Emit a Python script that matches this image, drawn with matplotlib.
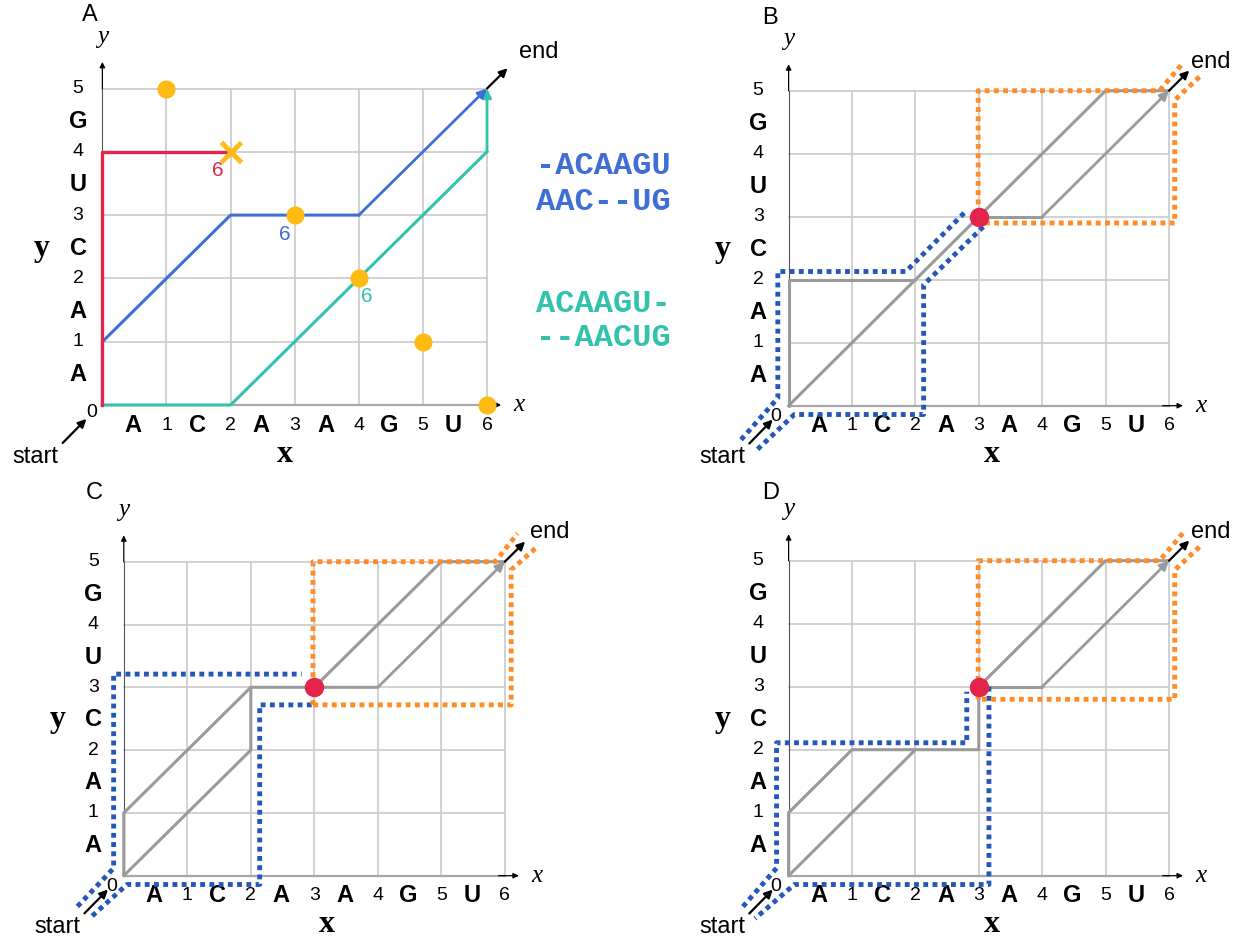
import matplotlib
matplotlib.use("Agg")
import matplotlib.pyplot as plt

W, H = 1242, 940
fig = plt.figure(figsize=(W / 100, H / 100), dpi=100)
fig.patch.set_facecolor("white")

# ---------------- data ----------------
x_seq = ["A", "C", "A", "A", "G", "U"]
y_seq = ["A", "A", "C", "U", "G"]
x_ticks = [0, 1, 2, 3, 4, 5, 6]
y_ticks = [0, 1, 2, 3, 4, 5]

# panel A paths
red_x, red_y = [0, 0, 2], [0, 4, 4]
blue_x, blue_y = [0, 0, 2, 4, 6], [0, 1, 3, 3, 5]
teal_x, teal_y = [0, 2, 6, 6], [0, 0, 4, 5]
dots_x, dots_y = [1, 3, 4, 5, 6], [5, 3, 2, 1, 0]
cross_x, cross_y = [2], [4]
score_labels = [("6", 1.80, 3.71, "#E3244B"), ("6", 2.85, 2.69, "#3F6FD6"), ("6", 4.13, 1.71, "#33C2AE")]
align_blue = ["-ACAAGU", "AAC--UG"]
align_teal = ["ACAAGU-", "--AACUG"]

# panels B, C, D: optimal sub-paths (gray)
paths_B = [[(0, 0), (0, 2), (2, 2)], [(0, 0), (3, 3)], [(3, 3), (5, 5), (6, 5)], [(3, 3), (4, 3), (6, 5)]]
paths_C = [[(0, 0), (0, 1), (2, 3), (4, 3)], [(0, 0), (2, 2), (2, 3)], [(3, 3), (5, 5), (6, 5)], [(4, 3), (6, 5)]]
paths_D = [[(0, 0), (0, 1), (1, 2), (3, 2), (3, 3)], [(0, 0), (2, 2)], [(3, 3), (5, 5), (6, 5)], [(3, 3), (4, 3), (6, 5)]]
mid_point = (3, 3)

blue_B = [[(-0.75, -0.54), (-0.17, 0.12), (-0.17, 2.13), (1.85, 2.13), (2.79, 3.08)],
          [(3.07, 2.84), (2.13, 1.92), (2.13, -0.14), (0.09, -0.14), (-0.53, -0.73)]]
orange_B = [[(2.99, 3.05), (2.99, 5.0), (5.85, 5.0), (6.23, 5.45)],
            [(6.48, 5.22), (6.09, 4.85), (6.09, 2.9), (3.1, 2.9)]]
blue_C = [[(-0.73, -0.49), (-0.16, 0.12), (-0.16, 3.21), (2.8, 3.21)],
          [(2.96, 2.72), (2.14, 2.72), (2.14, -0.14), (0.05, -0.14), (-0.54, -0.68)]]
orange_C = [[(2.98, 2.72), (2.98, 5.0), (5.85, 5.0), (6.2, 5.45)],
            [(6.48, 5.21), (6.1, 4.87), (6.1, 2.72), (2.98, 2.72)]]
blue_D = [[(-0.72, -0.49), (-0.19, 0.12), (-0.19, 2.11), (2.81, 2.11), (2.81, 2.92)],
          [(3.16, 3.0), (3.16, -0.14), (0.09, -0.14), (-0.53, -0.68)]]
orange_D = [[(2.99, 2.8), (2.99, 5.0), (5.85, 5.0), (6.23, 5.45)],
            [(6.48, 5.22), (6.09, 4.85), (6.09, 2.8), (2.99, 2.8)]]

# ---------------- styles ----------------
GRID = "#c9c9c9"
GRAY = "#9a9a9a"
RED = "#E3244B"
BLUE = "#3F6FD6"
TEAL = "#33C2AE"
GOLD = "#FDBB14"
DBLUE = "#2457B9"
ORANGE = "#FF8C26"
SANS = "Liberation Sans"
SERIF = "Liberation Serif"
DOT = (0, (1, 0.9))

XL, XR, YB, YT = -1.6, 7.4, -1.1, 6.5


def make_ax(ox, oy, ux, uy):
    left = ox + XL * ux
    width = (XR - XL) * ux
    bottom_px = oy - YB * uy
    height = (YT - YB) * uy
    ax = fig.add_axes([left / W, (H - bottom_px) / H, width / W, height / H])
    ax.set_xlim(XL, XR)
    ax.set_ylim(YB, YT)
    ax.axis("off")
    ax.patch.set_alpha(0)
    return ax


def frame(ax, letter, letter_xy, ynum_x, zero_xy, xlab_x, ylab_x, end_x, end_y):
    for gx in range(1, 7):
        ax.plot([gx, gx], [0, 5], color=GRID, lw=1.2, zorder=1)
    for gy in range(1, 6):
        ax.plot([0, 6], [gy, gy], color=GRID, lw=1.2, zorder=1)
    ax.plot([0, 6], [0, 0], color="#a8a8a8", lw=1.6, zorder=1)
    ax.annotate("", xy=(6.22, 0), xytext=(5.9, 0),
                arrowprops=dict(arrowstyle="-|>", lw=0.9, color="black", mutation_scale=8,
                                shrinkA=0, shrinkB=0), zorder=2)
    ax.annotate("", xy=(0, 5.42), xytext=(0, 5.0),
                arrowprops=dict(arrowstyle="-|>", lw=0.9, color="black", mutation_scale=8,
                                shrinkA=0, shrinkB=0), zorder=2)
    ax.plot([0, 0], [0, 5.0], color="#555555", lw=0.8, zorder=1)
    # axis letters
    ax.text(6.5, 0.0, "x", family=SERIF, style="italic", fontsize=18, ha="center", va="center")
    ax.text(0.0, 5.82, "y", family=SERIF, style="italic", fontsize=18, ha="center", va="center")
    ax.text(letter_xy[0], letter_xy[1], letter, family=SANS, fontsize=17, ha="center", va="center")
    ax.text(xlab_x, -0.78, "x", family=SERIF, weight="bold", fontsize=23, ha="center", va="center")
    ax.text(ylab_x, 2.48, "y", family=SERIF, weight="bold", fontsize=23, ha="center", va="center")
    # ticks
    ax.text(zero_xy[0], zero_xy[1], "0", family=SANS, fontsize=14, ha="center", va="center")
    for t in x_ticks[1:]:
        ax.text(t, -0.32, str(t), family=SANS, fontsize=14, ha="center", va="center")
    for i, b in enumerate(x_seq):
        ax.text(i + 0.48, -0.32, b, family=SANS, weight="bold", fontsize=17, ha="center", va="center")
    for t in y_ticks[1:]:
        ax.text(ynum_x, t, str(t), family=SANS, fontsize=14, ha="center", va="center")
    for i, b in enumerate(y_seq):
        ax.text(ynum_x, i + 0.48, b, family=SANS, weight="bold", fontsize=17, ha="center", va="center")
    # start / end
    ax.annotate("", xy=(-0.25, -0.22), xytext=(-0.62, -0.6),
                arrowprops=dict(arrowstyle="-|>", lw=1.6, color="black", mutation_scale=12,
                                shrinkA=0, shrinkB=0), zorder=6)
    ax.text(-1.04, -0.82, "start", family=SANS, fontsize=17, ha="center", va="center")
    ax.annotate("", xy=(6.32, 5.32), xytext=(6.0, 5.0),
                arrowprops=dict(arrowstyle="-|>", lw=1.6, color="black", mutation_scale=12,
                                shrinkA=0, shrinkB=0), zorder=6)
    ax.text(end_x, end_y, "end", family=SANS, fontsize=17, ha="left", va="center")


def arrow_end(ax, p0, p1, color):
    ax.annotate("", xy=p1, xytext=p0,
                arrowprops=dict(arrowstyle="-|>", lw=2.0, color=color, mutation_scale=13,
                                shrinkA=0, shrinkB=0), zorder=4)


# ---------------- panel A ----------------
axA = make_ax(102.4, 405.0, 64.1, 63.3)
frame(axA, "A", (-0.2, 6.16), -0.38, (-0.17, -0.12), 2.85, -0.94, 6.5, 5.58)
axA.plot(teal_x[:-1], teal_y[:-1], color=TEAL, lw=2.2, zorder=3)
arrow_end(axA, (teal_x[-2], teal_y[-2]), (teal_x[-1], teal_y[-1]), TEAL)
axA.plot(blue_x[:-1], blue_y[:-1], color=BLUE, lw=2.2, zorder=3)
arrow_end(axA, (blue_x[-2], blue_y[-2]), (blue_x[-1], blue_y[-1]), BLUE)
axA.plot(red_x, red_y, color=RED, lw=2.4, zorder=3)
axA.plot(dots_x, dots_y, "o", color=GOLD, ms=12, zorder=5, clip_on=False)
axA.plot(cross_x, cross_y, "x", color=GOLD, ms=14, mew=3.5, zorder=5)
for s, sx, sy, c in score_labels:
    axA.text(sx, sy, s, color=c, family=SANS, fontsize=15, ha="center", va="center")

for i, line in enumerate(align_blue):
    fig.text(536 / W, 1 - (166.5 + 35 * i) / H, line, color=BLUE, family="Liberation Mono",
             weight="bold", fontsize=23, ha="left", va="center")
for i, line in enumerate(align_teal):
    fig.text(536 / W, 1 - (304.5 + 33.5 * i) / H, line, color=TEAL, family="Liberation Mono",
             weight="bold", fontsize=23, ha="left", va="center")


# ---------------- panels B, C, D ----------------
def draw_panel(ax, paths, blue_lines, orange_lines):
    for p in paths:
        xs = [q[0] for q in p]
        ys = [q[1] for q in p]
        if p[-1] == (6, 5) and p[-2] != (5, 5):
            ax.plot(xs[:-1], ys[:-1], color=GRAY, lw=2.2, zorder=3, solid_capstyle="round")
            arrow_end(ax, p[-2], p[-1], GRAY)
        else:
            ax.plot(xs, ys, color=GRAY, lw=2.2, zorder=3, solid_capstyle="round")
    for ln in blue_lines:
        ax.plot([q[0] for q in ln], [q[1] for q in ln], color=DBLUE, lw=3.5, ls=DOT,
                dash_capstyle="butt", zorder=4, clip_on=False)
    for ln in orange_lines:
        ax.plot([q[0] for q in ln], [q[1] for q in ln], color=ORANGE, lw=3.5, ls=DOT,
                dash_capstyle="butt", zorder=4, clip_on=False)
    ax.plot([mid_point[0]], [mid_point[1]], "o", color=RED, ms=13, zorder=7)


axB = make_ax(788.6, 405.7, 63.4, 63.0)
frame(axB, "B", (-0.29, 6.15), -0.48, (-0.21, -0.17), 3.2, -1.04, 6.35, 5.46)
draw_panel(axB, paths_B, blue_B, orange_B)

axC = make_ax(123.8, 875.7, 63.5, 62.8)
frame(axC, "C", (-0.47, 6.09), -0.48, (-0.19, -0.17), 3.2, -1.04, 6.39, 5.48)
draw_panel(axC, paths_C, blue_C, orange_C)

axD = make_ax(788.6, 875.7, 63.4, 63.0)
frame(axD, "D", (-0.29, 6.08), -0.48, (-0.21, -0.17), 3.2, -1.04, 6.35, 5.46)
draw_panel(axD, paths_D, blue_D, orange_D)

fig.savefig("out.png", dpi=100, facecolor="white")
